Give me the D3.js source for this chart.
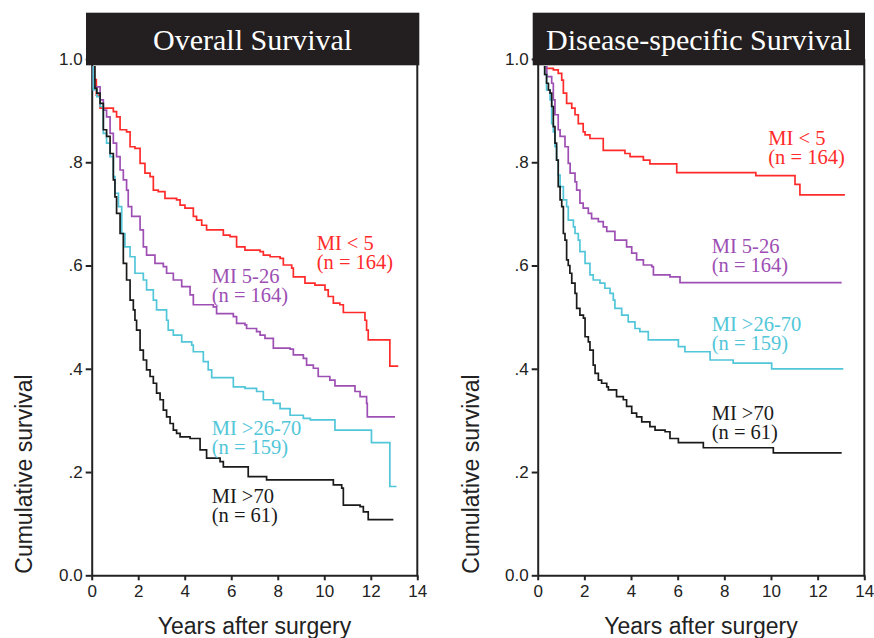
<!DOCTYPE html>
<html>
<head>
<meta charset="utf-8">
<script src="https://cdn.jsdelivr.net/npm/d3@7"></script>
<style>
  body { margin: 0; background: #fff; }
  svg { display: block; }
</style>
</head>
<body>
<div id="chart"></div>
<script>
// Overall survival: [years, cumulative survival], step after
const osMiLt5 = [[0,1],[0.1,0.96],[0.2,0.93],[0.36,0.905],[0.93,0.898],[1.07,0.888],[1.22,0.863],[1.5,0.859],[1.65,0.83],[1.86,0.827],[2.08,0.798],[2.29,0.779],[2.51,0.772],[2.65,0.746],[2.86,0.743],[3.15,0.73],[3.65,0.727],[3.8,0.717],[4.01,0.711],[4.37,0.695],[4.51,0.688],[4.73,0.678],[4.94,0.669],[5.66,0.659],[5.95,0.656],[6.23,0.636],[6.59,0.63],[7.24,0.627],[7.38,0.62],[7.67,0.617],[8.1,0.614],[8.24,0.601],[8.6,0.595],[8.67,0.578],[9.17,0.566],[9.6,0.562],[10.03,0.553],[10.17,0.54],[10.39,0.527],[10.67,0.524],[10.82,0.509],[11.75,0.494],[11.82,0.475],[11.89,0.456],[12.82,0.405],[13.18,0.405]];
const osMi5to26 = [[0,1],[0.07,0.946],[0.36,0.921],[0.5,0.901],[0.64,0.888],[0.79,0.856],[0.93,0.837],[1.07,0.811],[1.22,0.785],[1.36,0.766],[1.5,0.746],[1.57,0.714],[1.72,0.695],[2.08,0.669],[2.22,0.636],[2.36,0.62],[2.72,0.604],[3.08,0.598],[3.22,0.585],[3.51,0.572],[3.87,0.559],[4.23,0.543],[4.37,0.524],[5.23,0.52],[5.37,0.507],[6.09,0.501],[6.23,0.488],[6.59,0.485],[6.66,0.478],[7.09,0.472],[7.24,0.465],[7.45,0.459],[7.81,0.44],[8.53,0.438],[8.67,0.427],[9.1,0.42],[9.24,0.407],[9.53,0.401],[9.74,0.385],[10.24,0.378],[10.46,0.367],[11.32,0.356],[11.54,0.346],[11.82,0.333],[11.85,0.307],[13.04,0.307]];
const osMi26to70 = [[0,1],[0.07,0.94],[0.22,0.927],[0.36,0.908],[0.5,0.856],[0.64,0.837],[0.79,0.811],[0.93,0.772],[1.0,0.74],[1.15,0.714],[1.29,0.662],[1.43,0.636],[1.65,0.617],[1.86,0.585],[2.22,0.572],[2.36,0.553],[2.65,0.533],[2.79,0.514],[3.22,0.494],[3.29,0.475],[3.51,0.465],[3.87,0.452],[4.3,0.446],[4.37,0.433],[4.8,0.414],[5.01,0.398],[5.16,0.383],[6.09,0.365],[6.59,0.362],[7.09,0.356],[7.38,0.34],[7.81,0.333],[8.1,0.323],[8.53,0.31],[9.1,0.304],[9.4,0.301],[10.46,0.281],[12.03,0.257],[12.82,0.172],[13.11,0.172]];
const osMiGt70 = [[0,1],[0.14,0.943],[0.22,0.934],[0.36,0.914],[0.5,0.863],[0.64,0.85],[0.79,0.817],[0.93,0.766],[1.0,0.733],[1.07,0.701],[1.22,0.662],[1.36,0.604],[1.5,0.572],[1.65,0.533],[1.79,0.514],[1.86,0.494],[1.93,0.475],[2.08,0.436],[2.22,0.417],[2.36,0.398],[2.51,0.385],[2.65,0.372],[2.79,0.353],[2.94,0.34],[3.08,0.32],[3.22,0.307],[3.37,0.294],[3.51,0.281],[3.65,0.275],[3.8,0.268],[4.23,0.265],[4.66,0.243],[4.94,0.227],[5.52,0.22],[5.66,0.21],[6.73,0.191],[7.52,0.185],[10.39,0.175],[10.75,0.169],[10.82,0.136],[11.54,0.133],[11.68,0.123],[11.89,0.108],[12.97,0.108]];

// Disease-specific survival
const dssMiLt5 = [[0,1],[0.31,0.982],[0.67,0.979],[0.88,0.972],[1.03,0.959],[1.1,0.934],[1.24,0.914],[1.46,0.905],[1.6,0.892],[1.74,0.875],[1.95,0.859],[2.03,0.853],[2.24,0.846],[2.81,0.823],[3.74,0.817],[3.96,0.811],[4.53,0.804],[4.81,0.797],[5.96,0.78],[9.35,0.774],[11.03,0.757],[11.24,0.737],[13.17,0.737]];
const dssMi5to26 = [[0,1],[0.3,0.985],[0.39,0.966],[0.6,0.953],[0.67,0.921],[0.74,0.892],[0.88,0.863],[0.96,0.85],[1.17,0.83],[1.31,0.798],[1.39,0.779],[1.6,0.762],[1.67,0.746],[1.81,0.721],[1.95,0.711],[2.17,0.701],[2.31,0.691],[2.6,0.685],[2.81,0.675],[2.96,0.666],[3.31,0.649],[3.81,0.636],[4.03,0.624],[4.24,0.611],[4.53,0.601],[4.89,0.598],[4.96,0.582],[5.67,0.578],[6.1,0.567],[13.03,0.567]];
const dssMi26to70 = [[0,1],[0.3,0.97],[0.38,0.94],[0.53,0.921],[0.6,0.875],[0.67,0.859],[0.74,0.83],[0.81,0.804],[0.88,0.775],[0.96,0.753],[1.1,0.727],[1.24,0.714],[1.31,0.688],[1.53,0.675],[1.6,0.662],[1.74,0.649],[1.81,0.627],[2.03,0.604],[2.24,0.582],[2.38,0.572],[2.67,0.566],[2.88,0.556],[3.1,0.546],[3.24,0.533],[3.31,0.517],[3.6,0.504],[3.88,0.491],[4.17,0.478],[4.38,0.472],[4.74,0.456],[6.03,0.443],[6.31,0.433],[7.39,0.417],[8.38,0.411],[10.03,0.4],[13.1,0.4]];
const dssMiGt70 = [[0,1],[0.3,0.97],[0.38,0.953],[0.46,0.94],[0.53,0.934],[0.6,0.908],[0.67,0.869],[0.74,0.837],[0.81,0.804],[0.88,0.753],[0.96,0.727],[1.03,0.714],[1.1,0.662],[1.17,0.649],[1.24,0.611],[1.31,0.6],[1.38,0.585],[1.46,0.566],[1.6,0.546],[1.67,0.517],[1.81,0.504],[1.96,0.498],[2.03,0.462],[2.17,0.452],[2.24,0.436],[2.38,0.407],[2.46,0.391],[2.6,0.378],[2.74,0.372],[2.96,0.365],[3.03,0.359],[3.38,0.346],[3.67,0.34],[3.81,0.327],[4.03,0.314],[4.24,0.307],[4.46,0.297],[4.81,0.288],[5.03,0.281],[5.46,0.278],[5.67,0.265],[6.03,0.257],[7.1,0.247],[10.1,0.237],[13.03,0.237]];

const groupNames = ["MI < 5", "MI 5-26", "MI >26-70", "MI >70"];
const groupN = ["(n = 164)", "(n = 164)", "(n = 159)", "(n = 61)"];
const groupColors = ["#ff2b2b", "#9d4fb3", "#52c6d9", "#1a1a1a"];

const xTicks = [0, 2, 4, 6, 8, 10, 12, 14];
const yTicks = [0, 0.2, 0.4, 0.6, 0.8, 1.0];
const yTickLabels = ["0.0", ".2", ".4", ".6", ".8", "1.0"];

const width = 874, height = 638;

const svg = d3.select("#chart").append("svg")
  .attr("width", width)
  .attr("height", height);

const panels = [
  { title: "Overall Survival", series: [osMiLt5, osMi5to26, osMi26to70, osMiGt70],
    x0: 91.7, x1: 417.3, boxL: 86, boxR: 419.3, ytitleX: 32,
    labels: [[316.7, 250], [211.7, 283], [211.7, 435], [211.7, 503]] },
  { title: "Disease-specific Survival", series: [dssMiLt5, dssMi5to26, dssMi26to70, dssMiGt70],
    x0: 537.7, x1: 864.3, boxL: 532.7, boxR: 865, ytitleX: 479,
    labels: [[768.3, 145], [711.7, 253], [711.7, 331], [711.7, 420]] }
];

const yTop = 59, yBottom = 575.3;

panels.forEach((p, pi) => {
  const g = svg.append("g");

  const x = d3.scaleLinear().domain([0, 14]).range([p.x0, p.x1]);
  const y = d3.scaleLinear().domain([0, 1]).range([yBottom, yTop]);

  // y axis
  const yAxis = g.append("g")
    .attr("transform", `translate(${p.x0},0)`)
    .call(d3.axisLeft(y).tickValues(yTicks)
      .tickFormat((d, i) => yTickLabels[i]).tickSize(6).tickSizeOuter(0));
  yAxis.selectAll("text").attr("font-size", 17).attr("x", -9)
    .attr("font-family", "Liberation Sans, Arial, sans-serif").attr("fill", "#222");

  // x axis
  const xAxis = g.append("g")
    .attr("transform", `translate(0,${yBottom})`)
    .call(d3.axisBottom(x).tickValues(xTicks).tickSize(5).tickSizeOuter(0));
  xAxis.selectAll("text").attr("font-size", 17).attr("y", 10)
    .attr("font-family", "Liberation Sans, Arial, sans-serif").attr("fill", "#222");

  g.selectAll(".domain, .tick line").attr("stroke", "#222").attr("stroke-width", 2);

  // right border
  g.append("line")
    .attr("x1", x(14)).attr("x2", x(14))
    .attr("y1", y(1)).attr("y2", yBottom + 1)
    .attr("stroke", "#222").attr("stroke-width", 2);

  // curves
  const clipId = "clip" + pi;
  svg.append("clipPath").attr("id", clipId)
    .append("rect").attr("x", p.x0).attr("y", 66)
    .attr("width", p.x1 - p.x0).attr("height", yBottom - 66);

  const line = d3.line()
    .x(d => x(d[0]))
    .y(d => y(d[1]))
    .curve(d3.curveStepAfter);

  g.append("g").attr("clip-path", `url(#${clipId})`)
    .selectAll("path")
    .data(p.series)
    .enter()
      .append("path")
      .attr("d", line)
      .attr("fill", "none")
      .attr("stroke", (d, i) => groupColors[i])
      .attr("stroke-width", 1.7);

  // group labels
  p.labels.forEach((pos, i) => {
    const t = g.append("text")
      .attr("x", pos[0]).attr("y", pos[1])
      .attr("font-family", "Liberation Serif, Times New Roman, serif")
      .attr("font-size", 20.5)
      .attr("fill", groupColors[i]);
    t.append("tspan").attr("x", pos[0]).text(groupNames[i]);
    t.append("tspan").attr("x", pos[0]).attr("dy", 19).text(groupN[i]);
  });

  // title box
  g.append("rect")
    .attr("x", p.boxL).attr("y", 12.7)
    .attr("width", p.boxR - p.boxL).attr("height", 52.6)
    .attr("fill", "#231f20");
  g.append("text")
    .attr("x", (p.boxL + p.boxR) / 2).attr("y", 50)
    .attr("text-anchor", "middle")
    .attr("font-family", "Liberation Serif, Times New Roman, serif")
    .attr("font-size", 30)
    .attr("fill", "#fff")
    .text(p.title);

  // axis titles
  g.append("text")
    .attr("x", (p.x0 + p.x1) / 2).attr("y", 634)
    .attr("text-anchor", "middle")
    .attr("font-family", "Liberation Sans, Arial, sans-serif")
    .attr("font-size", 23)
    .attr("fill", "#222")
    .text("Years after surgery");

  g.append("text")
    .attr("transform", `translate(${p.ytitleX},474) rotate(-90)`)
    .attr("text-anchor", "middle")
    .attr("font-family", "Liberation Sans, Arial, sans-serif")
    .attr("font-size", 23)
    .attr("fill", "#222")
    .text("Cumulative survival");
});
</script>
</body>
</html>
